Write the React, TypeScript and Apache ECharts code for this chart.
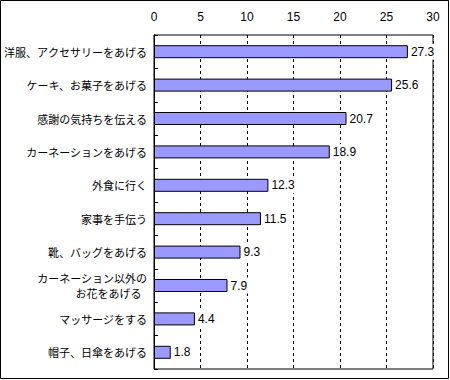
import React, { useEffect, useRef } from "react";
import * as echarts from "echarts";

const categories = [
  "洋服、アクセサリーをあげる",
  "ケーキ、お菓子をあげる",
  "感謝の気持ちを伝える",
  "カーネーションをあげる",
  "外食に行く",
  "家事を手伝う",
  "靴、バッグをあげる",
  "カーネーション以外の\nお花をあげる\u2002",
  "マッサージをする",
  "帽子、日傘をあげる",
];
const values = [27.3, 25.6, 20.7, 18.9, 12.3, 11.5, 9.3, 7.9, 4.4, 1.8];

export default function App() {
  const ref = useRef<HTMLDivElement>(null);
  useEffect(() => {
    if (!ref.current) return;
    const chart = echarts.init(ref.current, null, { renderer: "svg" });
    chart.setOption({
      animation: false,
      backgroundColor: "#ffffff",
      graphic: [
        {
          type: "rect",
          shape: { x: 0.5, y: 0.5, width: 448, height: 378 },
          style: { fill: "none", stroke: "#000", lineWidth: 1 },
          z: 10,
        },
      ],
      grid: {
        left: 154,
        right: 17,
        top: 35,
        bottom: 11,
        show: true,
        borderColor: "#000",
        borderWidth: 1,
        backgroundColor: "transparent",
      },
      xAxis: {
        type: "value",
        position: "top",
        min: 0,
        max: 30,
        interval: 5,
        axisLine: { show: false },
        axisTick: { show: false },
        axisLabel: {
          color: "#000",
          fontSize: 12,
          fontFamily: "Liberation Sans",
          margin: 12,
        },
        splitLine: {
          show: true,
          lineStyle: { color: "#000", type: [3, 3], width: 1 },
        },
      },
      yAxis: {
        type: "category",
        data: categories,
        inverse: true,
        axisLine: { show: true, lineStyle: { color: "#000", width: 1 } },
        axisTick: { show: true, inside: true, length: 4, lineStyle: { color: "#000" } },
        axisLabel: {
          color: "#000",
          fontSize: 11,
          fontFamily: "Noto Sans CJK JP",
          margin: 7,
          lineHeight: 15,
          interval: 0,
        },
        splitLine: { show: false },
      },
      series: [
        {
          type: "bar",
          data: values,
          barWidth: 13,
          itemStyle: { color: "#9999FF", borderColor: "#000", borderWidth: 1 },
          label: {
            show: true,
            position: "right",
            distance: 2,
            color: "#000",
            fontSize: 12,
            fontFamily: "Liberation Sans",
            backgroundColor: "#ffffff",
            padding: [2, 1, 2, 1],
          },
        },
      ],
    });
    return () => chart.dispose();
  }, []);
  return (
    <div
      ref={ref}
      style={{ position: "fixed", left: 0, top: 0, width: 450, height: 380 }}
    />
  );
}
